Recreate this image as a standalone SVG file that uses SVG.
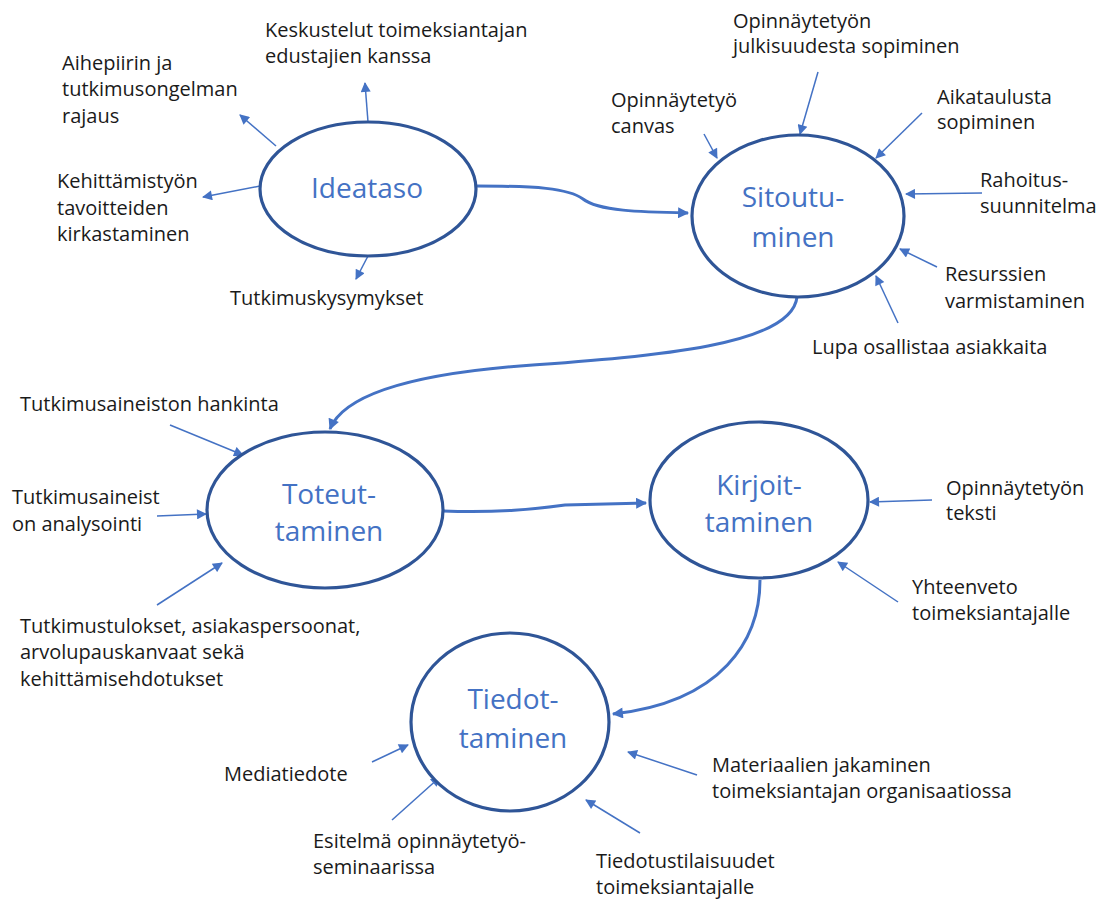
<svg xmlns="http://www.w3.org/2000/svg" width="1103" height="899" viewBox="0 0 1103 899">
<style>
.node{fill:#ffffff;stroke:#2F5597;stroke-width:3.2}
.nt{font-family:"Open Sans","Liberation Sans",sans-serif;font-size:28px;fill:#4472C4;text-anchor:middle}
.lb{font-family:"Open Sans","Liberation Sans",sans-serif;font-size:20px;fill:#1a1a1a}
.main{fill:none;stroke:#4472C4;stroke-width:3}
.thin{fill:none;stroke:#4472C4;stroke-width:1.5}
</style>
<defs>
<marker id="ah" viewBox="0 0 10 10" refX="9" refY="5" markerWidth="13" markerHeight="11" markerUnits="userSpaceOnUse" orient="auto">
<path d="M0,0 L10,5 L0,10 z" fill="#4472C4"/>
</marker>
<marker id="ahs" viewBox="0 0 10 10" refX="9" refY="5" markerWidth="13" markerHeight="10" markerUnits="userSpaceOnUse" orient="auto">
<path d="M0,0 L10,5 L0,10 z" fill="#4472C4"/>
</marker>
</defs>
<rect width="1103" height="899" fill="#ffffff"/>
<g id="connectors">
<path class="main" d="M476,186 C535,186 568,188 583,199 C598,211 640,212 688,213" marker-end="url(#ah)"/>
<path class="main" d="M797,297 C792,345 660,356 520,366 C420,374 345,392 330,429" marker-end="url(#ah)"/>
<path class="main" d="M443,511 C500,513 535,509 565,505 L646,503" marker-end="url(#ah)"/>
<path class="main" d="M760,580 C760,640 722,702 613,714" marker-end="url(#ah)"/>
<path class="thin" d="M368,122 L365,83" marker-end="url(#ahs)"/>
<path class="thin" d="M276,146 L240,115" marker-end="url(#ahs)"/>
<path class="thin" d="M260,186 L203,197" marker-end="url(#ahs)"/>
<path class="thin" d="M368,256 L356,279" marker-end="url(#ahs)"/>
<path class="thin" d="M704,134 L717,158" marker-end="url(#ahs)"/>
<path class="thin" d="M818,72 L800,134" marker-end="url(#ahs)"/>
<path class="thin" d="M922,113 L876,158" marker-end="url(#ahs)"/>
<path class="thin" d="M982,193 L906,194" marker-end="url(#ahs)"/>
<path class="thin" d="M937,267 L900,249" marker-end="url(#ahs)"/>
<path class="thin" d="M898,323 L876,276" marker-end="url(#ahs)"/>
<path class="thin" d="M170,425 L243,455" marker-end="url(#ahs)"/>
<path class="thin" d="M157,516 L206,514" marker-end="url(#ahs)"/>
<path class="thin" d="M157,605 L222,563" marker-end="url(#ahs)"/>
<path class="thin" d="M932,500 L870,502" marker-end="url(#ahs)"/>
<path class="thin" d="M898,602 L838,562" marker-end="url(#ahs)"/>
<path class="thin" d="M372,762 L408,745" marker-end="url(#ahs)"/>
<path class="thin" d="M392,820 L440,777" marker-end="url(#ahs)"/>
<path class="thin" d="M697,775 L628,752" marker-end="url(#ahs)"/>
<path class="thin" d="M640,833 L586,800" marker-end="url(#ahs)"/>
</g>
<g id="ideataso">
<ellipse class="node" cx="368" cy="189" rx="108" ry="67"/>
<text class="nt" x="367" y="198">Ideataso</text>
</g>
<g id="sitoutuminen">
<ellipse class="node" cx="798" cy="216" rx="106" ry="81"/>
<text class="nt" x="793" y="207">Sitoutu-</text>
<text class="nt" x="793" y="247">minen</text>
</g>
<g id="toteuttaminen">
<ellipse class="node" cx="325" cy="510" rx="118" ry="78"/>
<text class="nt" x="329" y="504">Toteut-</text>
<text class="nt" x="329" y="541">taminen</text>
</g>
<g id="kirjoittaminen">
<ellipse class="node" cx="759" cy="500" rx="109" ry="78"/>
<text class="nt" x="759" y="495">Kirjoit-</text>
<text class="nt" x="759" y="532">taminen</text>
</g>
<g id="tiedottaminen">
<ellipse class="node" cx="510" cy="722" rx="99" ry="89"/>
<text class="nt" x="513" y="709">Tiedot-</text>
<text class="nt" x="513" y="748">taminen</text>
</g>
<g id="labels">
<text class="lb" x="265" y="37">Keskustelut toimeksiantajan</text>
<text class="lb" x="265" y="63">edustajien kanssa</text>
<text class="lb" x="62" y="70">Aihepiirin ja</text>
<text class="lb" x="62" y="96">tutkimusongelman</text>
<text class="lb" x="62" y="123">rajaus</text>
<text class="lb" x="57" y="188">Kehittämistyön</text>
<text class="lb" x="57" y="215">tavoitteiden</text>
<text class="lb" x="57" y="241">kirkastaminen</text>
<text class="lb" x="230" y="305">Tutkimuskysymykset</text>
<text class="lb" x="733" y="28">Opinnäytetyön</text>
<text class="lb" x="733" y="53">julkisuudesta sopiminen</text>
<text class="lb" x="611" y="107">Opinnäytetyö</text>
<text class="lb" x="611" y="133">canvas</text>
<text class="lb" x="937" y="104">Aikataulusta</text>
<text class="lb" x="937" y="129">sopiminen</text>
<text class="lb" x="980" y="187">Rahoitus-</text>
<text class="lb" x="980" y="213">suunnitelma</text>
<text class="lb" x="945" y="281">Resurssien</text>
<text class="lb" x="945" y="308">varmistaminen</text>
<text class="lb" x="812" y="354">Lupa osallistaa asiakkaita</text>
<text class="lb" x="20" y="411">Tutkimusaineiston hankinta</text>
<text class="lb" x="12" y="504">Tutkimusaineist</text>
<text class="lb" x="12" y="531">on analysointi</text>
<text class="lb" x="20" y="633">Tutkimustulokset, asiakaspersoonat,</text>
<text class="lb" x="20" y="659">arvolupauskanvaat sekä</text>
<text class="lb" x="20" y="686">kehittämisehdotukset</text>
<text class="lb" x="946" y="495">Opinnäytetyön</text>
<text class="lb" x="946" y="520">teksti</text>
<text class="lb" x="912" y="594">Yhteenveto</text>
<text class="lb" x="912" y="620">toimeksiantajalle</text>
<text class="lb" x="224" y="781">Mediatiedote</text>
<text class="lb" x="313" y="848">Esitelmä opinnäytetyö-</text>
<text class="lb" x="313" y="874">seminaarissa</text>
<text class="lb" x="712" y="772">Materiaalien jakaminen</text>
<text class="lb" x="712" y="798">toimeksiantajan organisaatiossa</text>
<text class="lb" x="596" y="868">Tiedotustilaisuudet</text>
<text class="lb" x="596" y="894">toimeksiantajalle</text>
</g>
</svg>
